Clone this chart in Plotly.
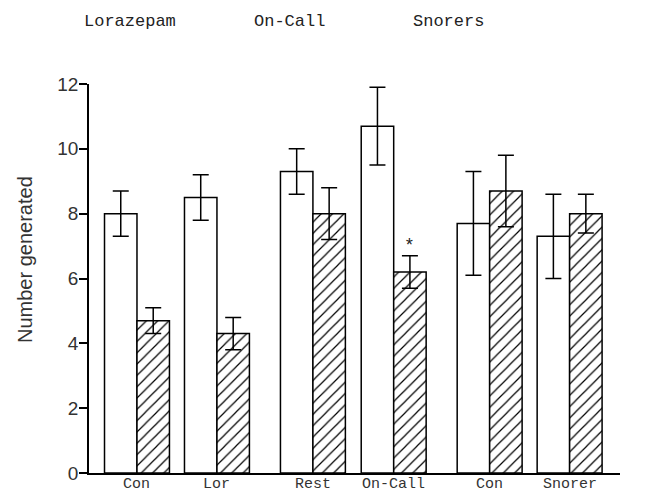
import plotly.graph_objects as go

# Group layout
pair_labels = ["Con", "Lor", "Rest", "On-Call", "Con", "Snorer"]
pair_pos = [0.0, 1.0, 2.2, 3.21, 4.41, 5.41]
group_titles = ["Lorazepam", "On-Call", "Snorers"]

# Means and error limits
open_vals = [8.0, 8.5, 9.3, 10.7, 7.7, 7.3]
open_err = [0.7, 0.7, 0.7, 1.2, 1.6, 1.3]
hatch_vals = [4.7, 4.3, 8.0, 6.2, 8.7, 8.0]
hatch_err = [0.4, 0.5, 0.8, 0.5, 1.1, 0.6]

y_ticks = [0, 2, 4, 6, 8, 10, 12]

W, H = 655, 492
L, R, T, B = 89, 35, 84, 19
pw, ph = W - L - R, H - T - B


def px_x(px):
    return (px - L) / pw


def px_y(py):
    return (H - B - py) / ph


bw = 0.406
open_x = [p - bw / 2 for p in pair_pos]
hatch_x = [p + bw / 2 for p in pair_pos]

err_style = dict(type="data", thickness=1.5, width=8, color="black")
line_style = dict(color="black", width=1.5)

fig = go.Figure()
fig.add_trace(go.Bar(
    x=open_x, y=open_vals, width=bw,
    marker=dict(color="white", line=line_style),
    error_y=dict(array=open_err, **err_style),
    showlegend=False,
))
fig.add_trace(go.Bar(
    x=hatch_x, y=hatch_vals, width=bw,
    marker=dict(color="white", line=line_style,
                pattern=dict(shape="/", fgcolor="black", bgcolor="white",
                             fgopacity=1, size=8, solidity=0.15)),
    error_y=dict(array=hatch_err, **err_style),
    showlegend=False,
))

# significance marker above the On-Call hatched bar
fig.add_annotation(x=hatch_x[3], y=hatch_vals[3] + hatch_err[3] + 0.3,
                   text="*", showarrow=False,
                   font=dict(family="Liberation Mono", size=18, color="#222"))

# group titles across the top
for t, px in zip(group_titles, [130, 289, 448]):
    fig.add_annotation(x=px_x(px), y=px_y(22), xref="paper", yref="paper",
                       text=t, showarrow=False, xanchor="center", yanchor="middle",
                       font=dict(family="Liberation Mono", size=17, color="#222"))

# category labels under each pair
for t, p in zip(pair_labels, pair_pos):
    fig.add_annotation(x=p, y=px_y(484), xref="x", yref="paper",
                       text=t, showarrow=False, xanchor="center", yanchor="middle",
                       font=dict(family="Liberation Mono", size=15, color="#333"))

# y axis title
fig.add_annotation(x=px_x(25), y=px_y(260), xref="paper", yref="paper",
                   text="Number generated", showarrow=False, textangle=-90,
                   xanchor="center", yanchor="middle",
                   font=dict(family="Liberation Sans", size=20, color="#333"))

fig.update_layout(
    width=W, height=H,
    margin=dict(l=L, r=R, t=T, b=B, autoexpand=False),
    paper_bgcolor="white", plot_bgcolor="white",
    barmode="overlay",
    xaxis=dict(
        range=[-0.6, 6.04], tickvals=pair_pos, showticklabels=False,
        showline=True, linecolor="black", linewidth=1.5,
        ticks="", showgrid=False, zeroline=False, automargin=False,
    ),
    yaxis=dict(
        range=[0, 12], tickvals=y_ticks,
        showline=True, linecolor="black", linewidth=1.5,
        ticks="outside", ticklen=8, tickwidth=1.5, tickcolor="black",
        ticklabelstandoff=-3,
        showgrid=False, zeroline=False,
        tickfont=dict(family="Liberation Sans", size=19, color="#333"),
        automargin=False,
    ),
)

fig.write_html("out.html")
